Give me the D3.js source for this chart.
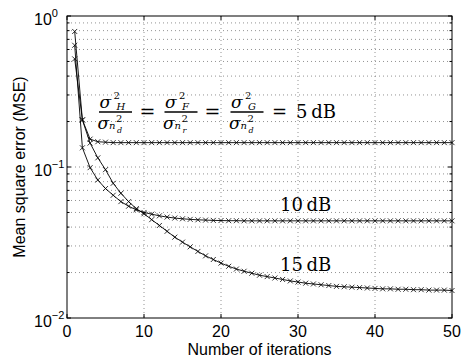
<!DOCTYPE html>
<html lang="en">
<head>
<meta charset="utf-8">
<title>MSE vs iterations</title>
<style>
    body { margin: 0; background: #fff; }
    .axis-text { font-family: "Liberation Sans", Arial, sans-serif; fill: #000; }
    .tex { font-family: "DejaVu Serif", "Liberation Serif", serif; fill: #000; }
    .grid line { stroke: #777; stroke-width: 0.8; stroke-dasharray: 1,3; }
</style>
</head>
<body>
<svg id="chart" width="466" height="360"></svg>
<script src="https://d3js.org/d3.v7.min.js"></script>
<script>
// iterations on the x axis
var iterations = [1, 2, 3, 4, 5, 6, 7, 8, 9, 10,
    11, 12, 13, 14, 15, 16, 17, 18, 19, 20,
    21, 22, 23, 24, 25, 26, 27, 28, 29, 30,
    31, 32, 33, 34, 35, 36, 37, 38, 39, 40,
    41, 42, 43, 44, 45, 46, 47, 48, 49, 50];

// MSE curves
var mse5dB = [0.52, 0.205, 0.153, 0.147, 0.146, 0.145, 0.145, 0.145, 0.145, 0.145,
    0.145, 0.145, 0.145, 0.145, 0.145, 0.145, 0.145, 0.145, 0.145, 0.145,
    0.145, 0.145, 0.145, 0.145, 0.145, 0.145, 0.145, 0.145, 0.145, 0.145,
    0.145, 0.145, 0.145, 0.145, 0.145, 0.145, 0.145, 0.145, 0.145, 0.145,
    0.145, 0.145, 0.145, 0.145, 0.145, 0.145, 0.145, 0.145, 0.145, 0.145];

var mse10dB = [0.64, 0.134, 0.099, 0.082, 0.072, 0.065, 0.059, 0.055, 0.052, 0.050,
    0.0487, 0.0475, 0.0466, 0.0459, 0.0454, 0.0450, 0.0447, 0.0445, 0.0443, 0.0442,
    0.0441, 0.0441, 0.0440, 0.0440, 0.0440, 0.0440, 0.0440, 0.0440, 0.0440, 0.0440,
    0.0440, 0.0440, 0.0440, 0.0440, 0.0440, 0.0440, 0.0440, 0.0440, 0.0440, 0.0440,
    0.0440, 0.0440, 0.0440, 0.0440, 0.0440, 0.0440, 0.0440, 0.0440, 0.0440, 0.0440];

var mse15dB = [0.79, 0.205, 0.144, 0.115, 0.096, 0.078, 0.067, 0.059, 0.053, 0.049,
    0.0448, 0.041, 0.0375, 0.0343, 0.0318, 0.0296, 0.0276, 0.0258, 0.0244, 0.0231,
    0.0220, 0.0211, 0.0204, 0.0198, 0.0192, 0.0188, 0.0184, 0.0180, 0.0176, 0.0173,
    0.0170, 0.0168, 0.0166, 0.0164, 0.0162, 0.0161, 0.0160, 0.0159, 0.0158, 0.0157,
    0.0156, 0.0156, 0.0155, 0.0155, 0.0154, 0.0154, 0.0153, 0.0153, 0.0153, 0.0152];

var xTicks = [0, 10, 20, 30, 40, 50];
var yTicks = [1, 0.1, 0.01];
var yTickExps = ["0", "\u22121", "\u22122"];
var curveLabels = ["10\u2009dB", "15\u2009dB"];

var svg = d3.select('#chart'),
    margin = {top: 16, right: 14, bottom: 42, left: 67},
    w = 466 - margin.left - margin.right,
    h = 360 - margin.top - margin.bottom;

var x = d3.scaleLinear().domain([0, 50]).range([0, w]);
var y = d3.scaleLog().domain([0.01, 1]).range([h, 0]);

var g = svg.append('g')
    .attr('transform', 'translate(' + margin.left + ',' + margin.top + ')');

// minor log values for grid and ticks
var minorY = [];
[0.01, 0.1].forEach(function(base) {
    for (var k = 2; k <= 9; k++) minorY.push(base * k);
});

// grid (dotted)
var grid = g.append('g').attr('class', 'grid');
grid.selectAll('.gx').data(xTicks.slice(1, -1)).enter().append('line')
    .attr('x1', function(d) { return x(d); }).attr('x2', function(d) { return x(d); })
    .attr('y1', 0).attr('y2', h);
grid.selectAll('.gy').data(minorY.concat([0.1])).enter().append('line')
    .attr('x1', 0).attr('x2', w)
    .attr('y1', function(d) { return y(d); }).attr('y2', function(d) { return y(d); });

// ticks pointing inward on all four sides
var ticks = g.append('g').attr('stroke', '#000').attr('stroke-width', 1);
xTicks.forEach(function(d) {
    ticks.append('line').attr('x1', x(d)).attr('x2', x(d)).attr('y1', h).attr('y2', h - 4);
    ticks.append('line').attr('x1', x(d)).attr('x2', x(d)).attr('y1', 0).attr('y2', 4);
});
yTicks.concat(minorY).forEach(function(d) {
    var len = yTicks.indexOf(d) >= 0 ? 4 : 2.5;
    ticks.append('line').attr('x1', 0).attr('x2', len).attr('y1', y(d)).attr('y2', y(d));
    ticks.append('line').attr('x1', w).attr('x2', w - len).attr('y1', y(d)).attr('y2', y(d));
});

// frame
g.append('rect')
    .attr('width', w).attr('height', h)
    .attr('fill', 'none').attr('stroke', '#000').attr('stroke-width', 1);

// x tick labels
g.selectAll('.xlab').data(xTicks).enter().append('text')
    .attr('class', 'axis-text')
    .attr('x', function(d) { return x(d); })
    .attr('y', h + 19)
    .attr('text-anchor', 'middle')
    .attr('font-size', 16)
    .text(function(d) { return d; });

// y tick labels (10 with exponent)
yTicks.forEach(function(d, i) {
    var t = g.append('text')
        .attr('class', 'axis-text')
        .attr('x', -33)
        .attr('y', y(d) + 9)
        .attr('font-size', 16);
    t.append('tspan').text('10');
    t.append('tspan').attr('dy', -8).attr('font-size', 11).text(yTickExps[i]);
});

// axis titles
g.append('text')
    .attr('class', 'axis-text')
    .attr('x', w / 2)
    .attr('y', h + 37)
    .attr('text-anchor', 'middle')
    .attr('font-size', 16)
    .text('Number of iterations');

g.append('text')
    .attr('class', 'axis-text')
    .attr('transform', 'translate(' + (-42) + ',' + (h / 2) + ') rotate(-90)')
    .attr('text-anchor', 'middle')
    .attr('font-size', 16)
    .text('Mean square error (MSE)');

// curves
var line = d3.line()
    .x(function(d, i) { return x(iterations[i]); })
    .y(function(d) { return y(d); });

var marker = 'M-2.5,-2.5L2.5,2.5M-2.5,2.5L2.5,-2.5';

[mse5dB, mse10dB, mse15dB].forEach(function(series) {
    g.append('path')
        .datum(series)
        .attr('fill', 'none')
        .attr('stroke', '#000')
        .attr('stroke-width', 0.9)
        .attr('d', line);

    g.append('g').selectAll('path').data(series).enter().append('path')
        .attr('transform', function(d, i) {
            return 'translate(' + x(iterations[i]) + ',' + y(d) + ')';
        })
        .attr('d', marker)
        .attr('stroke', '#000')
        .attr('stroke-width', 0.8);
});

// curve labels
g.append('text').attr('class', 'tex')
    .attr('x', 213).attr('y', 195)
    .attr('font-size', 18)
    .text(curveLabels[0]);
g.append('text').attr('class', 'tex')
    .attr('x', 213).attr('y', 255)
    .attr('font-size', 18)
    .text(curveLabels[1]);

// equation sigma_H^2/sigma_nd^2 = sigma_F^2/sigma_nr^2 = sigma_G^2/sigma_nd^2 = 5 dB
var eq = g.append('g').attr('class', 'tex');
var barY = 96;

// one text element per numerator / denominator, glyphs placed with tspans
function part(pieces) {
    var t = eq.append('text');
    pieces.forEach(function(p) {
        t.append('tspan')
            .attr('x', p[0]).attr('y', p[1])
            .attr('font-size', p[2])
            .attr('font-style', p[4] ? 'italic' : 'normal')
            .text(p[3]);
    });
}

function fraction(cx, numSub, denSub) {
    eq.append('line')
        .attr('x1', cx - 16.5).attr('x2', cx + 16.5)
        .attr('y1', barY).attr('y2', barY)
        .attr('stroke', '#000').attr('stroke-width', 1.4);
    part([
        [cx - 16, barY - 4.5, 17, '\u03c3', true],
        [cx - 2, barY - 13.5, 10, '2', false],
        [cx + 1, barY - 1.8, 10, numSub, true]
    ]);
    part([
        [cx - 18, barY + 16.5, 17, '\u03c3', true],
        [cx + 0.5, barY + 10, 10, '2', false],
        [cx - 6.5, barY + 17, 10, 'n', true],
        [cx + 1.5, barY + 20.5, 8, denSub, true]
    ]);
}

function equals(cx) {
    eq.append('text').attr('x', cx).attr('y', barY + 6)
        .attr('text-anchor', 'middle').attr('font-size', 19).text('=');
}

fraction(48.5, 'H', 'd');
equals(80.5);
fraction(114, 'F', 'r');
equals(145.5);
fraction(180, 'G', 'd');
eq.append('text').attr('x', 205).attr('y', barY + 6)
    .attr('font-size', 18).text('=\u20025\u2009dB');
</script>
</body>
</html>
